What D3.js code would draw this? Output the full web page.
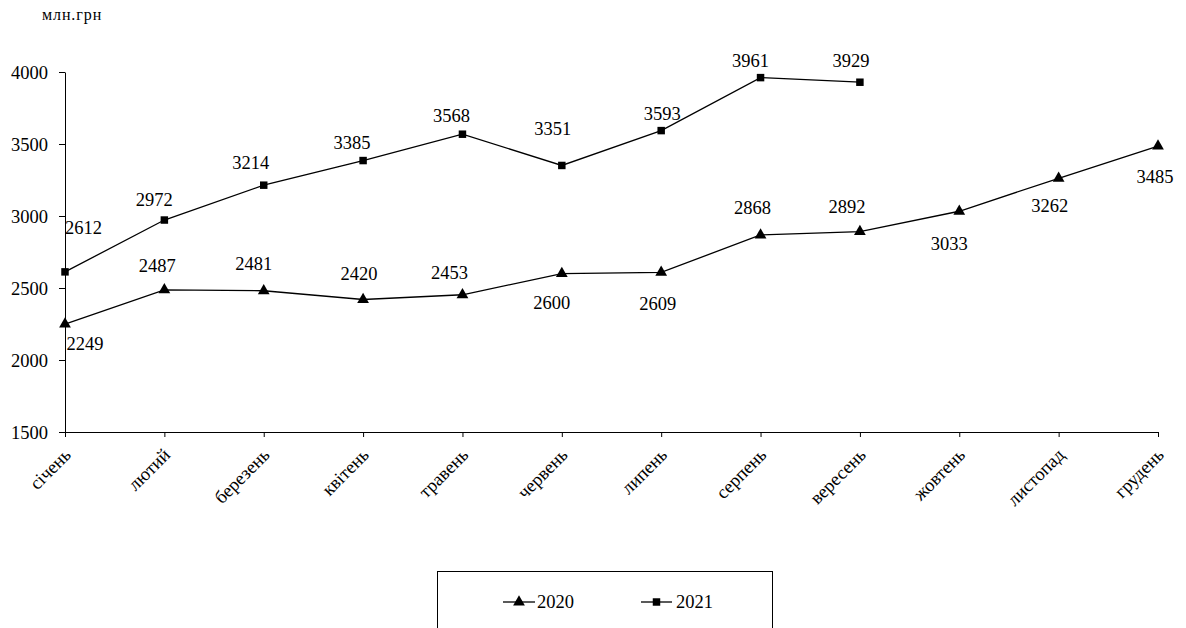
<!DOCTYPE html>
<html><head><meta charset="utf-8">
<script src="https://cdn.jsdelivr.net/npm/d3@7"></script>
<style>
body{margin:0;background:#fff;}
</style></head>
<body>
<svg id="chart" width="1186" height="628"></svg>
<script>
const months = ["січень","лютий","березень","квітень","травень","червень","липень","серпень","вересень","жовтень","листопад","грудень"];
const values2020 = [2249,2487,2481,2420,2453,2600,2609,2868,2892,3033,3262,3485];
const values2021 = [2612,2972,3214,3385,3568,3351,3593,3961,3929];
const yTicks = [1500,2000,2500,3000,3500,4000];
const unitLabel = "млн.грн";
const seriesNames = ["2020","2021"];
// label placement offsets (label centre relative to point)
const labelOffsets2020 = [[20,20],[-7,-24],[-10,-27],[-4,-26],[-13,-22],[-10,29],[-3.5,31.5],[-8,-27.5],[-13,-24.5],[-10,33],[-9,28],[-3,31]];
const labelOffsets2021 = [[18.5,-44],[-10,-20],[-13,-22.5],[-11,-18],[-11,-18],[-9,-36],[1,-17],[-10,-17],[-9,-21]];

const FONT = "'Liberation Serif','Times New Roman',serif";
const svg = d3.select("#chart");
const FS = 18.5;
const x = d3.scalePoint().domain(months).range([65,1158]);
const y = d3.scaleLinear().domain([1500,4000]).range([432,72]);

function styleText(sel, size){
  return sel.style("font-family",FONT).style("font-size",size+"px").attr("fill","#000");
}

// y axis
const ya = svg.append("g").attr("transform","translate(65,0)")
  .call(d3.axisLeft(y).tickValues(yTicks).tickSize(6).tickSizeOuter(0).tickFormat(d3.format("d")));
styleText(ya.selectAll("text"),FS).attr("x",-17).attr("dy","0.33em");
ya.selectAll("line,path").attr("stroke","#000");

// x axis
const xa = svg.append("g").attr("transform","translate(0,432)")
  .call(d3.axisBottom(x).tickSize(5).tickSizeOuter(0));
xa.selectAll("line,path").attr("stroke","#000");
xa.selectAll("text").remove();
styleText(svg.append("g").selectAll("text").data(months).join("text"),FS)
  .attr("transform",d=>`translate(${x(d)+7},456) rotate(-45)`)
  .attr("text-anchor","end").text(d=>d);

// unit label
styleText(svg.append("text"),16).style("letter-spacing","0.9px").attr("x",42).attr("y",19.5).text(unitLabel);

const line = d3.line().x((d,i)=>x(months[i])).y(d=>y(d));
const tri = d3.symbol().type(d3.symbolTriangle).size(60);
const sq = d3.symbol().type(d3.symbolSquare).size(56);

function drawSeries(vals, sym, offs){
  const g = svg.append("g");
  g.append("path").attr("d",line(vals)).attr("fill","none").attr("stroke","#000").attr("stroke-width",1.3);
  g.selectAll(".m").data(vals).join("path")
    .attr("transform",(d,i)=>`translate(${x(months[i])},${y(d)})`).attr("d",sym).attr("fill","#000");
  styleText(g.selectAll(".lbl").data(vals).join("text"),FS)
    .attr("x",(d,i)=>x(months[i])+offs[i][0])
    .attr("y",(d,i)=>y(d)+offs[i][1]+6)
    .attr("text-anchor","middle").text(d=>d);
}
drawSeries(values2020, tri, labelOffsets2020);
drawSeries(values2021, sq, labelOffsets2021);

// legend
const lg = svg.append("g");
lg.append("rect").attr("x",437.5).attr("y",571.5).attr("width",335).attr("height",80).attr("fill","none").attr("stroke","#000");
const items = [{name:seriesNames[0],sym:tri,x0:503,x1:535,tx:537},{name:seriesNames[1],sym:sq,x0:641,x1:672,tx:676}];
items.forEach(it=>{
  lg.append("line").attr("x1",it.x0).attr("x2",it.x1).attr("y1",602).attr("y2",602).attr("stroke","#000").attr("stroke-width",1.3);
  lg.append("path").attr("transform",`translate(${(it.x0+it.x1)/2},602)`).attr("d",it.sym).attr("fill","#000");
  styleText(lg.append("text"),FS).attr("x",it.tx).attr("y",608).text(it.name);
});
</script>
</body></html>
